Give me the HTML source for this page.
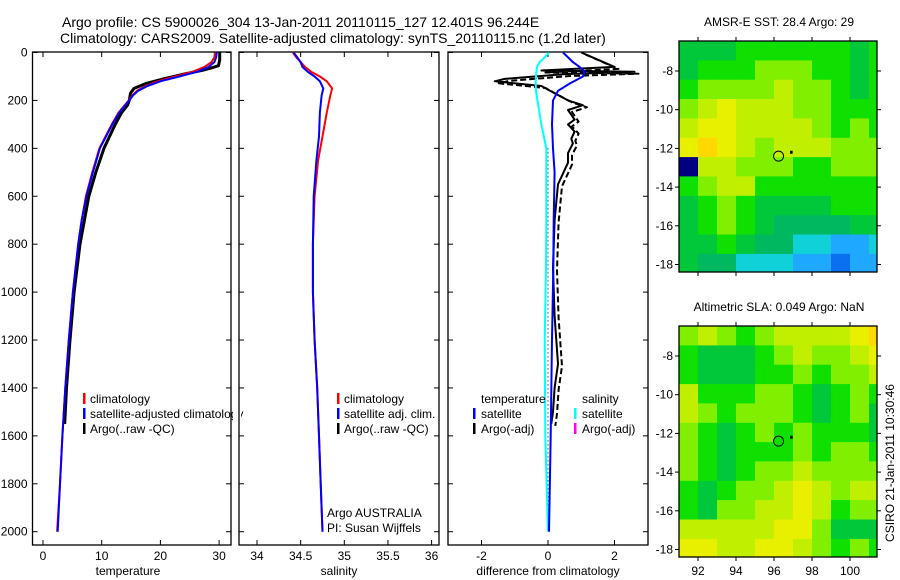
<!DOCTYPE html>
<html><head><meta charset="utf-8">
<style>
body{margin:0;background:#fff;}
svg{display:block;font-family:"Liberation Sans",sans-serif;}
text{fill:#000;}
</style></head>
<body>
<svg id="chart" width="900" height="580" viewBox="0 0 900 580" xmlns="http://www.w3.org/2000/svg">
<text x="62" y="27" font-size="14">Argo profile: CS 5900026_304 13-Jan-2011 20110115_127 12.401S 96.244E</text>
<text x="60" y="43" font-size="14">Climatology: CARS2009. Satellite-adjusted climatology: synTS_20110115.nc (1.2d later)</text>
<g id="g"></g>
</svg>
<script>
// ---- data ----
const tDepth   = [0,20,40,60,80,100,120,140,160,180,200,250,300,400,500,600,700,800,1000,1200,1400,1600,1800,2000];
const tClim    = [29.3,29.2,28.7,27.5,25.5,22.5,19.5,17.5,16,15.2,14.6,12.9,11.7,9.6,8.4,7.3,6.6,6.0,5.1,4.4,3.8,3.3,2.9,2.4];
const tSat     = [29.6,29.5,29.2,28.2,26.3,23.2,20.0,17.8,16.2,15.3,14.7,13.0,11.8,9.7,8.5,7.4,6.6,6.0,5.1,4.4,3.8,3.3,2.9,2.5];
const aDepth   = [0,30,55,65,75,90,110,130,150,170,200,220,250,300,400,500,600,800,1000,1200,1400,1550];
const tArgo    = [30.1,30.1,29.9,28.6,27.0,24.0,20.5,17.5,15.5,14.9,14.7,14.4,13.4,12.3,10.4,9.0,7.8,6.3,5.3,4.6,4.0,3.7];
const sDepth   = [0,20,40,60,80,100,120,150,180,250,350,450,600,800,1000,1200,1400,1600,1800,2000];
const sClim    = [34.41,34.45,34.5,34.55,34.62,34.72,34.8,34.86,34.84,34.8,34.75,34.7,34.66,34.64,34.64,34.66,34.69,34.71,34.73,34.75];
const sSat     = [34.42,34.46,34.5,34.52,34.58,34.66,34.72,34.76,34.74,34.72,34.71,34.68,34.65,34.64,34.64,34.66,34.69,34.71,34.73,34.75];
const dDepth   = [0,20,40,60,80,100,130,160,200,300,400,500,700,900,1200,1600,2000];
const dSatT    = [0.45,0.6,0.75,0.95,1.1,1.05,0.65,0.3,0.15,0.12,0.15,0.2,0.17,0.16,0.12,0.08,0.03];
const dSatS    = [0.03,-0.1,-0.25,-0.33,-0.35,-0.36,-0.37,-0.36,-0.32,-0.2,-0.05,-0.05,-0.05,-0.06,-0.1,-0.08,0.0];
const daDepth  = [0,30,60,75,80,90,110,120,140,170,200,220,240,280,300,330,360,380,420,460,550,700,900,1100,1200,1300,1400,1500,1550];
const dArgoT   = [1.0,1.5,2.0,-0.2,2.6,0.5,-1.3,-1.6,-0.2,0.2,0.6,1.05,0.6,0.8,0.6,0.8,0.7,0.75,0.6,0.6,0.3,0.2,0.15,0.2,0.25,0.3,0.2,0.15,0.1];
const depthTicks = [0,200,400,600,800,1000,1200,1400,1600,1800,2000];
const tempTicks = [0,10,20,30];
const salTicks = [34,34.5,35,35.5,36];
const diffTicks = [-2,0,2];
const lonTicks = [92,94,96,98,100];
const latTicks = [-8,-10,-12,-14,-16,-18];
// map grids: 1-degree cells, rows from lat -6.4 downward, cols from lon 91.0 eastward (colour index)
const sstGrid = [
[5,5,5,6,6,6,6,6,6,5,6],
[5,6,6,6,7,7,7,6,6,5,6],
[6,7,7,7,7,8,7,7,6,5,6],
[7,8,9,8,8,8,7,7,6,6,6],
[8,9,9,8,8,8,8,7,6,7,6],
[9,10,9,8,7,8,8,8,7,7,7],
[0,8,8,7,7,7,6,6,7,7,7],
[6,7,8,8,6,6,6,6,6,6,6],
[5,6,7,6,5,5,5,5,6,6,6],
[5,6,7,6,5,4,4,4,4,5,5],
[5,5,6,5,4,4,3,3,2,2,3],
[5,4,4,3,3,3,2,2,1,2,2]];
const slaGrid = [
[7,8,7,6,7,8,8,8,8,9,10],
[6,5,5,5,6,7,8,7,7,8,9],
[6,5,5,5,6,6,7,6,7,7,8],
[8,6,6,6,7,7,6,5,6,7,6],
[8,7,6,7,7,7,6,5,6,7,5],
[7,6,5,6,7,6,7,6,6,6,5],
[7,6,5,6,6,6,7,6,7,7,6],
[7,6,5,6,7,7,8,7,7,7,7],
[6,5,6,7,7,8,9,8,7,8,8],
[6,5,7,7,8,8,9,8,6,7,7],
[8,8,8,8,8,9,9,7,5,5,5],
[9,9,8,8,9,9,8,7,6,7,6]];
const palette = ["#000080","#0a70f0","#1ea8ff","#10d0d8","#00b860","#00c83a","#10e000","#80f000","#c0f000","#e8f000","#ffd800","#ffa000"];
const floatPos = [96.24,-12.4];
const prevPos = [96.9,-12.2];

// ---- helpers ----
const NS="http://www.w3.org/2000/svg";
const G=document.getElementById('g');
function el(tag,attrs,parent){const e=document.createElementNS(NS,tag);for(const k in attrs)e.setAttribute(k,attrs[k]);(parent||G).appendChild(e);return e;}
const yD = d => 52.5 + d*0.2396;
const xT = t => 43 + t*5.87;
const xS = s => 257 + (s-34)*87.3;
const xDf = v => 548 + v*33.25;

function frame(x0,x1,y0,y1,name){
  const r=el('rect',{x:x0,y:y0,width:x1-x0,height:y1-y0,fill:'none',stroke:'#000','stroke-width':1.3});
  
  
}
function line(xs,ys,color,w,name,dash){
  let d='';xs.forEach((x,i)=>{d+=(i?'L':'M')+x.toFixed(1)+','+ys[i].toFixed(1);});
  const p=el('path',{d:d,fill:'none',stroke:color,'stroke-width':w,'stroke-linejoin':'round'});
  if(dash)p.setAttribute('stroke-dasharray',dash);
  
  
}
function txt(x,y,s,size,anchor,name){
  const t=el('text',{x:x,y:y,'font-size':size,'text-anchor':anchor||'start'});t.textContent=s;
  
  
  return t;
}
function panelTicks(x0,x1,y0,y1,xticks,xf,labelX,labelY){
  depthTicks.forEach(d=>{const y=yD(d);
    el('line',{x1:x0,y1:y,x2:x0+5,y2:y,stroke:'#000'});el('line',{x1:x1,y1:y,x2:x1-5,y2:y,stroke:'#000'});
    if(labelY)txt(x0-5,y+4,String(d),12,'end','depth-tick-label');});
  xticks.forEach(v=>{const x=xf(v);
    el('line',{x1:x,y1:y0,x2:x,y2:y0+5,stroke:'#000'});el('line',{x1:x,y1:y1,x2:x,y2:y1-5,stroke:'#000'});
    if(labelX)txt(x,y1+15,String(v),12,'middle','x-tick-label');});
}
function legendMark(x,y,color,name){
  const r=el('rect',{x:x,y:y-11,width:2.5,height:11,fill:color});
  
  
}

// ---- panel 1: temperature ----
frame(32.5,231,52,545,'temperature-panel');
panelTicks(32.5,231,52,545,tempTicks,xT,true,true);
txt(128,575,'temperature',12,'middle','x-axis-title-temperature');
line(aDepth.map((d,i)=>xT(tArgo[i])),aDepth.map(yD),'#000',3,'argo-temperature-line');
line(tDepth.map((d,i)=>xT(tClim[i])),tDepth.map(yD),'#f00',2,'clim-temperature-line');
line(tDepth.map((d,i)=>xT(tSat[i])),tDepth.map(yD),'#00f',2,'sat-temperature-line');
legendMark(83,404,'#f00','legend-mark-climatology');txt(90,403,'climatology',12,'start','legend-climatology');
legendMark(83,419,'#00f','legend-mark-satellite');txt(90,418,'satellite-adjusted climatology',12,'start','legend-satellite-adjusted');
legendMark(83,434,'#000','legend-mark-argo');txt(90,433,'Argo(..raw -QC)',12,'start','legend-argo');

// ---- panel 2: salinity ----
el('rect',{x:233,y:52,width:8,height:493,fill:'#fff'});
frame(239,439,52,545,'salinity-panel');
panelTicks(239,439,52,545,salTicks,xS,true,false);
txt(339,575,'salinity',12,'middle','x-axis-title-salinity');
line(sDepth.map((d,i)=>xS(sClim[i])),sDepth.map(yD),'#f00',2,'clim-salinity-line');
line(sDepth.map((d,i)=>xS(sSat[i])),sDepth.map(yD),'#00f',2,'sat-salinity-line');
legendMark(337,404,'#f00','legend-mark-sal-climatology');txt(344,403,'climatology',12,'start','legend-sal-climatology');
legendMark(337,419,'#00f','legend-mark-sal-satellite');txt(344,418,'satellite adj. clim.',12,'start','legend-sal-satellite');
legendMark(337,434,'#000','legend-mark-sal-argo');txt(344,433,'Argo(..raw -QC)',12,'start','legend-sal-argo');
txt(327,517,'Argo AUSTRALIA',12,'start','credit-argo-australia');
txt(327,532,'PI: Susan Wijffels',12,'start','credit-pi');

// ---- panel 3: differences ----
el('rect',{x:441,y:52,width:7,height:493,fill:'#fff'});
frame(448,648,52,545,'difference-panel');
panelTicks(448,648,52,545,diffTicks,xDf,true,false);
txt(548,575,'difference from climatology',12,'middle','x-axis-title-difference');
el('line',{x1:xDf(0),y1:yD(400),x2:xDf(0),y2:yD(2000),stroke:'#000','stroke-dasharray':'1,3'});
line(daDepth.map((d,i)=>xDf(dArgoT[i])),daDepth.map(yD),'#000',2,'argo-temp-diff-line');
line(daDepth.map((d,i)=>xDf(dArgoT[i])+4),daDepth.map(d=>yD(d)+2),'#000',2,'argo-temp-diff-adj-line','6,3');
line(dDepth.map((d,i)=>xDf(dSatS[i])),dDepth.map(yD),'#0ff',2,'sat-sal-diff-line');
line(dDepth.map((d,i)=>xDf(dSatT[i])),dDepth.map(yD),'#00f',2,'sat-temp-diff-line');
txt(481,403,'temperature',12,'start','legend-diff-temperature');
legendMark(473,419,'#00f','legend-mark-diff-sat-temp');txt(481,418,'satellite',12,'start','legend-diff-sat-temp');
legendMark(473,434,'#000','legend-mark-diff-argo-temp');txt(481,433,'Argo(-adj)',12,'start','legend-diff-argo-temp');
txt(582,403,'salinity',12,'start','legend-diff-salinity');
legendMark(574,419,'#0ff','legend-mark-diff-sat-sal');txt(582,418,'satellite',12,'start','legend-diff-sat-sal');
legendMark(574,434,'#f0f','legend-mark-diff-argo-sal');txt(582,433,'Argo(-adj)',12,'start','legend-diff-argo-sal');

// ---- maps ----
function drawMap(y0,grid,title,name,lonLabels){
  const x0=679,x1=877,y1=y0+231;
  const xL = lon => x0 + (lon-91.0)*19.0;
  const yL = lat => y0 + (-6.45-lat)*19.35;
  grid.forEach((row,r)=>row.forEach((v,c)=>{
    const cx=xL(91.0+c), cy=yL(-6.45-r);
    const w=Math.min(xL(92.0+c),x1)-cx, h=Math.min(yL(-7.45-r),y1)-cy;
    const cell=el('rect',{x:cx.toFixed(1),y:cy.toFixed(1),width:(w+0.5).toFixed(1),height:(h+0.5).toFixed(1),fill:palette[v]});
    
    
  }));
  frame(x0,x1,y0,y1,name+'-frame');
  latTicks.forEach(l=>{const y=yL(l);
    el('line',{x1:x0,y1:y,x2:x0-4,y2:y,stroke:'#000'});el('line',{x1:x1,y1:y,x2:x1+4,y2:y,stroke:'#000'});
    txt(x0-6,y+4,String(l),12,'end','lat-tick-label');});
  lonTicks.forEach(l=>{const x=xL(l);
    el('line',{x1:x,y1:y0,x2:x,y2:y0-4,stroke:'#000'});el('line',{x1:x,y1:y1,x2:x,y2:y1+4,stroke:'#000'});
    if(lonLabels)txt(x,y1+18,String(l),12,'middle','lon-tick-label');});
  const c=el('circle',{cx:xL(floatPos[0]),cy:yL(floatPos[1]),r:5,fill:'none',stroke:'#000','stroke-width':1});
  
  
  el('rect',{x:xL(prevPos[0])-1,y:yL(prevPos[1])-1.5,width:2.5,height:3,fill:'#000'});
  txt(779,y0-15,title,12,'middle',name+'-title');
}
drawMap(41,sstGrid,'AMSR-E SST: 28.4 Argo: 29','sst-map',false);
drawMap(326,slaGrid,'Altimetric SLA: 0.049 Argo: NaN','sla-map',true);
const ts=txt(0,0,'CSIRO 21-Jan-2011 10:30:46',12,'middle','timestamp');
ts.setAttribute('transform','translate(894,463) rotate(-90)');
</script>
</body></html>
